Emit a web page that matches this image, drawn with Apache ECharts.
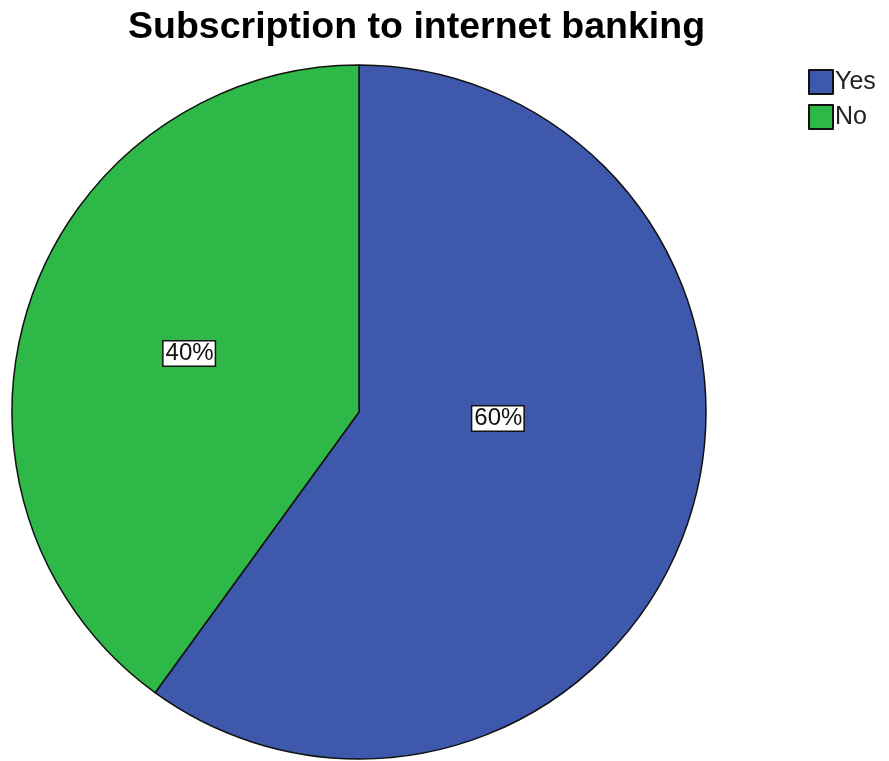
<!DOCTYPE html>
<html>
<head>
<meta charset="utf-8">
<script src="https://cdn.jsdelivr.net/npm/echarts@6/dist/echarts.min.js"></script>
<style>
  html, body { margin: 0; padding: 0; background: #fff; }
  #chart { width: 889px; height: 761px; }
</style>
</head>
<body>
<div id="chart"></div>
<script>
// chart data
const titleText = 'Subscription to internet banking';
const categories = ['Yes', 'No'];
const shares = [60, 40];
const colors = ['#3E58AC', '#2EB848'];

// small nudges so the labels sit where SPSS put them
const labelShift = [[-29, -48], [-2, -4]];

const chart = echarts.init(document.getElementById('chart'));

const options = {
  animation: false,
  title: {
    text: titleText,
    left: 123,
    top: 4,
    textStyle: {
      fontFamily: 'Liberation Sans, Arial, sans-serif',
      fontWeight: 'bold',
      fontSize: 37.5,
      color: '#000'
    }
  },
  legend: {
    orient: 'vertical',
    left: 803,
    top: 64,
    itemWidth: 24,
    itemHeight: 24,
    itemGap: 9,
    icon: 'rect',
    data: categories,
    textStyle: {
      fontFamily: 'Liberation Sans, Arial, sans-serif',
      fontSize: 25,
      color: '#222',
      padding: [0, 0, 0, -3]
    }
  },
  series: [
    {
      type: 'pie',
      center: [359, 412],
      radius: 347,
      startAngle: 90,
      clockwise: true,
      data: categories.map((name, i) => ({
        name: name,
        value: shares[i],
        itemStyle: { color: colors[i] }
      })),
      itemStyle: {
        borderColor: '#111',
        borderWidth: 1.5
      },
      label: {
        show: true,
        position: 'inside',
        formatter: '{d}%',
        fontFamily: 'Liberation Sans, Arial, sans-serif',
        fontSize: 24,
        color: '#111',
        backgroundColor: '#fff',
        borderColor: '#111',
        borderWidth: 1.5,
        padding: [0, 1, 0, 2]
      },
      labelLayout: (params) => ({
        dx: labelShift[params.dataIndex][0],
        dy: labelShift[params.dataIndex][1]
      }),
      emphasis: { disabled: true }
    }
  ]
};

chart.setOption(options);
</script>
</body>
</html>
